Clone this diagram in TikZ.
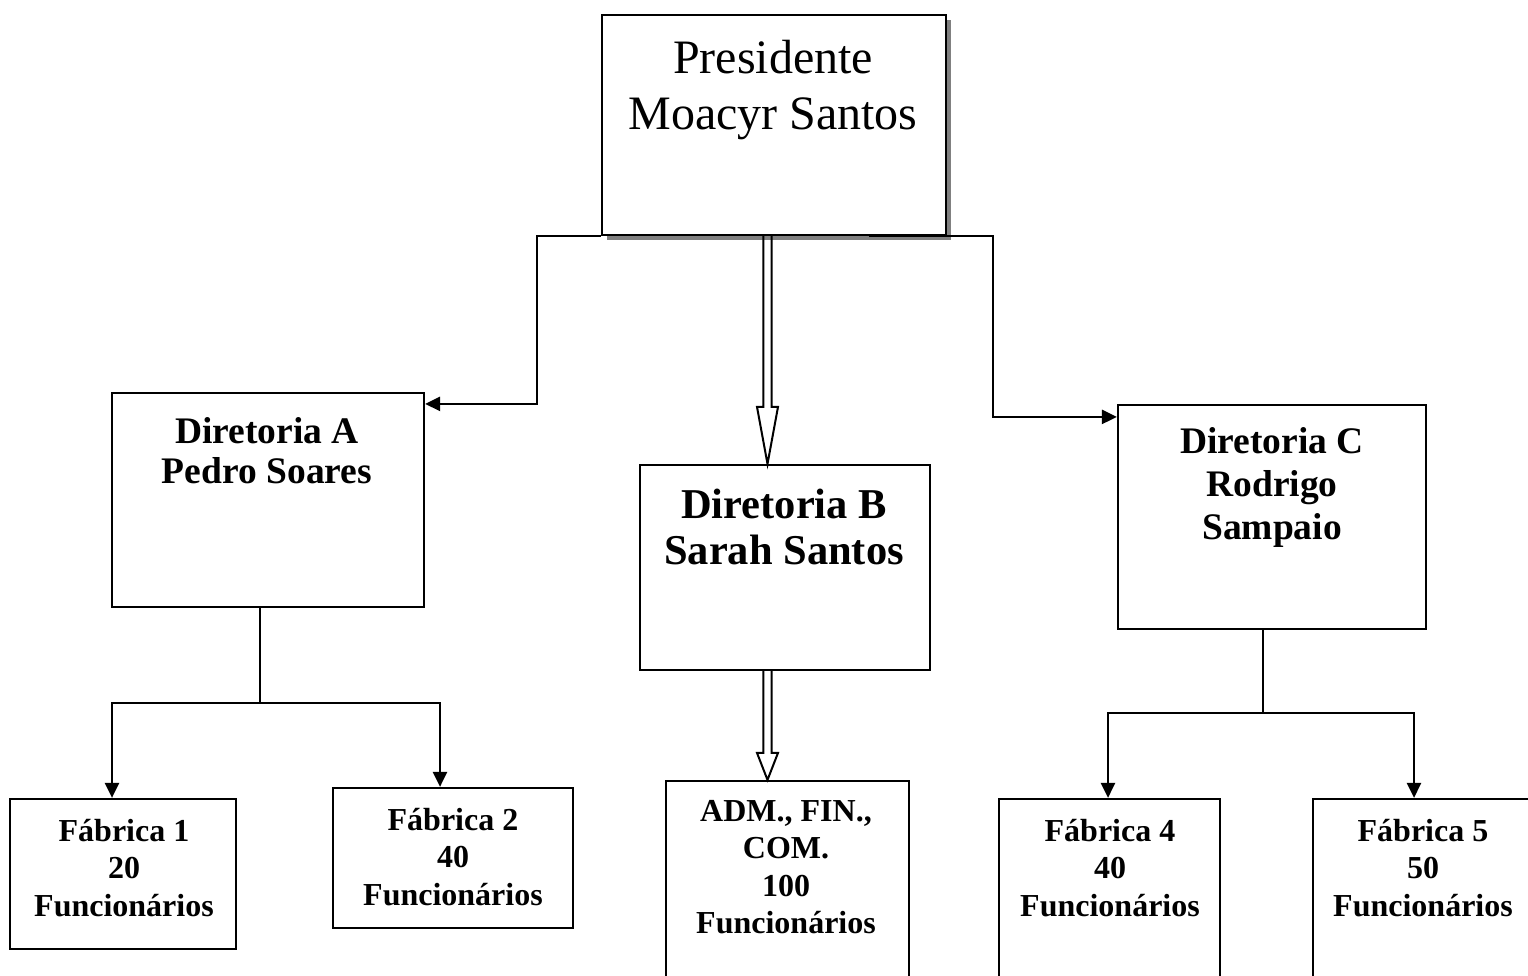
\documentclass[tikz,border=0pt]{standalone}
\usepackage{fontspec}
\setmainfont{Liberation Serif}
\usetikzlibrary{calc,shadows,arrows.meta}

\begin{document}
\begin{tikzpicture}[x=1pt, y=-1pt, line width=2.6pt,
  caixa/.style={draw, fill=white, line width=2.2pt, inner sep=0pt},
  seta/.style={-{Triangle[length=15pt,width=14pt]}},
  oca/.style={line width=2pt, line join=miter},
  txt/.style={anchor=north, align=center, inner sep=0pt},
  fpres/.style={font=\fontsize{48}{56}\selectfont},
  fdirA/.style={font=\fontsize{37.5}{40.5}\selectfont\bfseries},
  fdirB/.style={font=\fontsize{42.5}{46.5}\selectfont\bfseries},
  fdirC/.style={font=\fontsize{37.5}{43}\selectfont\bfseries},
  ffab/.style={font=\fontsize{32}{37.5}\selectfont\bfseries}]
  \useasboundingbox (0,0) rectangle (1528,976);

  % caixas
  \node[caixa, minimum width=344pt, minimum height=220pt,
        drop shadow={shadow xshift=5pt, shadow yshift=-5pt, fill=black!50, opacity=1}]
        (pres) at (774,125) {};
  \node[caixa, minimum width=312pt, minimum height=214pt] (dirA) at (268,500) {};
  \node[caixa, minimum width=290pt, minimum height=205pt] (dirB) at (785,567.5) {};
  \node[caixa, minimum width=308pt, minimum height=224pt] (dirC) at (1272,517) {};
  \node[caixa, minimum width=226pt, minimum height=150pt] (f1) at (123,874) {};
  \node[caixa, minimum width=240pt, minimum height=140pt] (f2) at (453,858) {};
  \node[caixa, minimum width=243pt, minimum height=209pt] (adm) at (787.5,885.5) {};
  \node[caixa, minimum width=221pt, minimum height=191pt] (f4) at (1109.5,894.5) {};
  \node[caixa, minimum width=227pt, minimum height=191pt] (f5) at (1426.5,894.5) {};

  % textos
  \node[txt, fpres] (presT) at (773,39) {Presidente\\Moacyr Santos};
  \node[txt, fdirA] (dirAT) at (267,416) {Diretoria A\\Pedro Soares};
  \node[txt, fdirB] (dirBT) at (784,487.5) {Diretoria B\\Sarah Santos};
  \node[txt, fdirC] (dirCT) at (1272,426) {Diretoria C\\Rodrigo\\Sampaio};
  \node[txt, ffab] (f1T) at (124,817.5) {Fábrica 1\\20\\Funcionários};
  \node[txt, ffab] (f2T) at (453,806.5) {Fábrica 2\\40\\Funcionários};
  \node[txt, ffab] (admT) at (786,799) {ADM., FIN.,\\COM.\\100\\Funcionários};
  \node[txt, ffab] (f4T) at (1110,817.5) {Fábrica 4\\40\\Funcionários};
  \node[txt, ffab] (f5T) at (1423,817.5) {Fábrica 5\\50\\Funcionários};

  % presidente -> diretorias A e C
  \coordinate (esq) at (537,0);
  \coordinate (dir) at (993,0);
  \coordinate (pA) at ($(dirA.north east)+(0,12)$);
  \coordinate (pC) at ($(dirC.north west)+(0,13)$);
  \draw[seta] (pres.south west) -| (esq |- pA) -- (pA);
  \draw[seta] ($(pres.south east)+(-78,0)$) -| (dir |- pC) -- (pC);

  % setas ocas (diretoria B)
  \coordinate (bx) at (767.5,0);
  \draw[oca] ($(pres.south -| bx)+(-4.2,0)$) -- ($(dirB.north -| bx)+(-4.2,-57)$)
    -- ++(-6.3,0) -- (dirB.north -| bx) -- ++(10.5,-57) -- ++(-6.3,0)
    -- ($(pres.south -| bx)+(4.2,0)$);
  \draw[oca] ($(dirB.south -| bx)+(-4.2,0)$) -- ($(adm.north -| bx)+(-4.2,-27)$)
    -- ++(-6.3,0) -- (adm.north -| bx) -- ++(10.5,-27) -- ++(-6.3,0)
    -- ($(dirB.south -| bx)+(4.2,0)$);

  % diretoria A -> fabricas 1 e 2
  \coordinate (jA) at (260,703);
  \coordinate (a1) at (112,0);
  \coordinate (a2) at (440,0);
  \draw (dirA.south -| jA) -- (jA);
  \draw[seta] (jA) -| (f1.north -| a1);
  \draw[seta] (jA) -| (f2.north -| a2);

  % diretoria C -> fabricas 4 e 5
  \coordinate (jC) at (1263,713);
  \coordinate (c1) at (1108,0);
  \coordinate (c2) at (1414,0);
  \draw (dirC.south -| jC) -- (jC);
  \draw[seta] (jC) -| (f4.north -| c1);
  \draw[seta] (jC) -| (f5.north -| c2);
\end{tikzpicture}
\end{document}
